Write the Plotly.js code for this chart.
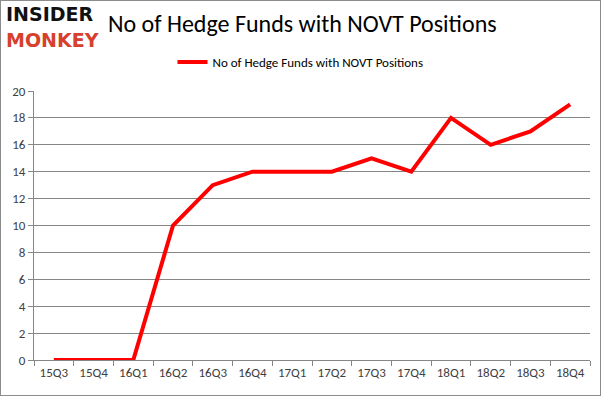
<!DOCTYPE html>
<html><head><meta charset="utf-8">
<script src="https://cdn.plot.ly/plotly-3.0.1.min.js"></script>
<style>body{margin:0;}#wrap{position:relative;width:601px;height:396px;}#frame{position:absolute;left:0;top:0;width:599px;height:394px;border:1px solid #8c8c8c;pointer-events:none;}</style>
</head><body>
<div id="wrap"><div id="chart" style="width:601px;height:396px;"></div><div id="frame"></div></div>
<script>
const quarters = ["15Q3","15Q4","16Q1","16Q2","16Q3","16Q4","17Q1","17Q2","17Q3","17Q4","18Q1","18Q2","18Q3","18Q4"];
const hedgeFunds = [0,0,0,10,13,14,14,14,15,14,18,16,17,19];
const seriesName = "No of Hedge Funds with NOVT Positions";
const titleText = "No of Hedge Funds with NOVT Positions";
const yTicks = [0,2,4,6,8,10,12,14,16,18,20];

const font = "Carlito, Calibri, 'Open Sans', 'Liberation Sans', sans-serif";
Plotly.newPlot("chart", [{
  x: quarters, y: hedgeFunds, type: "scatter", mode: "lines", name: seriesName,
  line: {color: "#ff0000", width: 4}
}], {
  width: 601, height: 396,
  margin: {l: 34, r: 11, t: 91, b: 36},
  paper_bgcolor: "#ffffff", plot_bgcolor: "#ffffff",
  font: {family: font, color: "#404040", size: 13},
  title: {text: titleText, x: 0.503, xref: "container", xanchor: "center", y: 0.94, yref: "container", yanchor: "middle",
          font: {family: font, size: 24, color: "#000000"}},
  showlegend: true,
  legend: {orientation: "h", x: 0.5, xref: "container", xanchor: "center", y: 0.843, yref: "container", yanchor: "middle",
           font: {size: 13, color: "#000000"}},
  xaxis: {type: "category", range: [-0.5, 13.5], showgrid: false, showline: true, linecolor: "#868686", linewidth: 1,
          ticks: "outside", tickson: "boundaries", ticklen: 5, tickcolor: "#868686", fixedrange: true, tickfont: {size: 13, color: "#404040"}},
  yaxis: {range: [0, 20], tickvals: yTicks, showgrid: true, gridcolor: "#868686", gridwidth: 1, showline: true, linecolor: "#868686",
          ticks: "outside", ticklen: 5, tickcolor: "#868686", zeroline: false, tickfont: {size: 13, color: "#404040"}},
  annotations: [
    {text: "<b>INSIDER</b>", xref: "paper", yref: "paper", x: -0.054, y: 1.285, xanchor: "left", yanchor: "middle", showarrow: false,
     font: {family: "'DejaVu Sans', sans-serif", size: 19, color: "#111111"}},
    {text: "<b>MONKEY</b>", xref: "paper", yref: "paper", x: -0.054, y: 1.19, xanchor: "left", yanchor: "middle", showarrow: false,
     font: {family: "'DejaVu Sans', sans-serif", size: 19, color: "#d6402c"}}
  ]
}, {displayModeBar: false, staticPlot: true});
</script>
</body></html>
